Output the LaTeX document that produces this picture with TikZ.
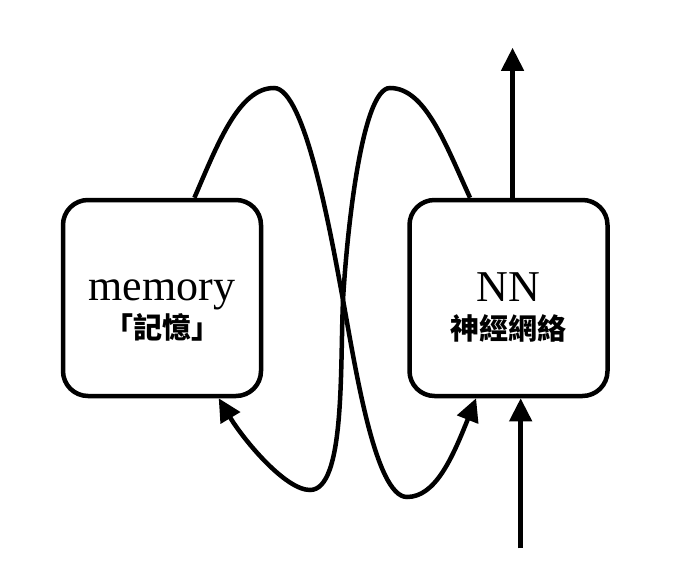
\documentclass[tikz,border=0pt]{standalone}
\usepackage{fontspec}
\setmainfont{Liberation Serif}
\newfontfamily\cjk{Noto Sans CJK TC}
\usetikzlibrary{positioning,arrows.meta,calc}

\begin{document}
\begin{tikzpicture}[
  x=1pt, y=-1pt,
  box/.style={draw, line width=4.5pt, rounded corners=25pt, align=center,
              minimum width=198pt, minimum height=196pt, inner sep=0pt,
              font=\fontsize{29}{38}\selectfont},
  flow/.style={-{Triangle[length=23pt,width=22pt]}, line width=4.5pt},
]
\useasboundingbox (0,0) rectangle (692,578);

% --- boxes ---
\node[box] (mem) at (162,298) {%
  \rule{0pt}{46pt}{\fontsize{44}{38}\selectfont memory}\\
  {\cjk\bfseries 「記憶」}};
\node[box, right=144pt of mem] (nn) {%
  \rule{0pt}{48pt}{\fontsize{44}{38}\selectfont NN}\\
  {\cjk\bfseries 神經網絡}};

% --- loop ends ---
\coordinate (memtop) at ($(mem.north west)!0.66!(mem.north east)$);
\coordinate (membot) at ($(mem.south west)!0.78!(mem.south east)$);
\coordinate (nntop)  at ($(nn.north west)!0.31!(nn.north east)$);
\coordinate (nnbot)  at ($(nn.south west)!0.34!(nn.south east)$);

% --- crossing loops ---
\draw[flow] (memtop) .. controls (218,143) and (239,88) .. (274,88)
  .. controls (305,88) and (331,235) .. (343,300)
  .. controls (355,365) and (375,497) .. (407,497)
  .. controls (435,497) and (452,459) .. (nnbot);
\draw[flow] (nntop) .. controls (445,143) and (425,88) .. (390,88)
  .. controls (362,88) and (347,230) .. (343,300)
  .. controls (340,370) and (345,490) .. (310,490)
  .. controls (285,490) and (243,439) .. (membot);

% --- input / output ---
\coordinate (input)  at ($(nn.south west)!0.56!(nn.south east)+(0,150)$);
\coordinate (output) at ($(nn.north west)!0.52!(nn.north east)+(0,-150)$);
\draw[flow] (input) -- (input |- nn.south);
\draw[flow] (output |- nn.north) -- (output);
\end{tikzpicture}
\end{document}
